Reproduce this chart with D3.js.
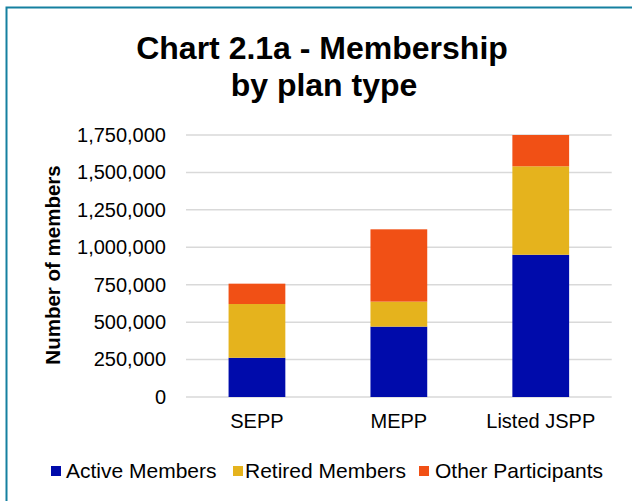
<!DOCTYPE html>
<html>
<head>
<meta charset="utf-8">
<script src="https://cdn.jsdelivr.net/npm/d3@7"></script>
<style>
  html, body { margin: 0; padding: 0; background: #fff; }
  svg { display: block; font-family: "Liberation Sans", Arial, sans-serif; }
</style>
</head>
<body>
<svg id="chart" width="632" height="501"></svg>
<script>
// Membership by plan type (stacked)
const categories = ["SEPP", "MEPP", "Listed JSPP"];
const seriesNames = ["Active Members", "Retired Members", "Other Participants"];
const activeMembers = [262000, 470000, 950000];
const retiredMembers = [359000, 167000, 591000];
const otherParticipants = [136000, 483000, 209000];
const yTicks = [0, 250000, 500000, 750000, 1000000, 1250000, 1500000, 1750000];
const colors = ["#000BAB", "#E5B31D", "#F15015"];

const rows = categories.map((c, i) => ({
  category: c,
  "Active Members": activeMembers[i],
  "Retired Members": retiredMembers[i],
  "Other Participants": otherParticipants[i]
}));

const svg = d3.select("#chart");

// frame
svg.append("path")
  .attr("d", "M6.5,501 L6.5,7.5 L632,7.5")
  .attr("fill", "none")
  .attr("stroke", "#1580A0")
  .attr("stroke-width", 2);

// title
const title = svg.append("text")
  .attr("text-anchor", "middle")
  .attr("font-weight", "bold")
  .attr("font-size", 32)
  .attr("fill", "#000");
title.append("tspan").attr("x", 322).attr("y", 59).text("Chart 2.1a - Membership");
title.append("tspan").attr("x", 324).attr("y", 96).text("by plan type");

const x = d3.scaleBand()
  .domain(categories)
  .range([186, 611.7])
  .paddingInner(0.6)
  .paddingOuter(0.3);

const y = d3.scaleLinear()
  .domain([0, 1750000])
  .range([397, 135]);

// gridlines
svg.append("g")
  .selectAll("line")
  .data(yTicks)
  .join("line")
  .attr("x1", 186)
  .attr("x2", 611.7)
  .attr("y1", d => y(d))
  .attr("y2", d => y(d))
  .attr("stroke", "#d9d9d9")
  .attr("stroke-width", 1.5);

// y axis labels
const yAxis = d3.axisLeft(y)
  .tickValues(yTicks)
  .tickFormat(d3.format(","))
  .tickSize(0)
  .tickPadding(0);
const yg = svg.append("g")
  .attr("transform", "translate(166,0)")
  .call(yAxis);
yg.select(".domain").remove();
yg.selectAll("text")
  .attr("font-size", 20)
  .attr("font-family", "Liberation Sans, Arial, sans-serif")
  .attr("fill", "#000");

// x axis labels
const xAxis = d3.axisBottom(x).tickSize(0).tickPadding(0);
const xg = svg.append("g")
  .attr("transform", "translate(0,414)")
  .call(xAxis);
xg.select(".domain").remove();
xg.selectAll("text")
  .attr("font-size", 20)
  .attr("font-family", "Liberation Sans, Arial, sans-serif")
  .attr("fill", "#000");

// y axis title
svg.append("text")
  .attr("transform", "translate(60,265) rotate(-90)")
  .attr("text-anchor", "middle")
  .attr("font-weight", "bold")
  .attr("font-size", 20.5)
  .attr("fill", "#000")
  .text("Number of members");

// stacked bars
const stack = d3.stack().keys(seriesNames);
const layers = stack(rows);

svg.append("g")
  .selectAll("g")
  .data(layers)
  .join("g")
  .attr("fill", (d, i) => colors[i])
  .selectAll("rect")
  .data(d => d)
  .join("rect")
  .attr("x", d => x(d.data.category))
  .attr("width", x.bandwidth())
  .attr("y", d => y(d[1]))
  .attr("height", d => y(d[0]) - y(d[1]));

// legend
const legendItems = [
  { name: seriesNames[0], sx: 51, tx: 66 },
  { name: seriesNames[1], sx: 233, tx: 245 },
  { name: seriesNames[2], sx: 419, tx: 435 }
];
const lg = svg.append("g");
legendItems.forEach((it, i) => {
  lg.append("rect")
    .attr("x", it.sx).attr("y", 466)
    .attr("width", 10).attr("height", 10)
    .attr("fill", colors[i]);
  lg.append("text")
    .attr("x", it.tx).attr("y", 478)
    .attr("font-size", 21)
    .attr("fill", "#000")
    .text(it.name);
});
</script>
</body>
</html>
